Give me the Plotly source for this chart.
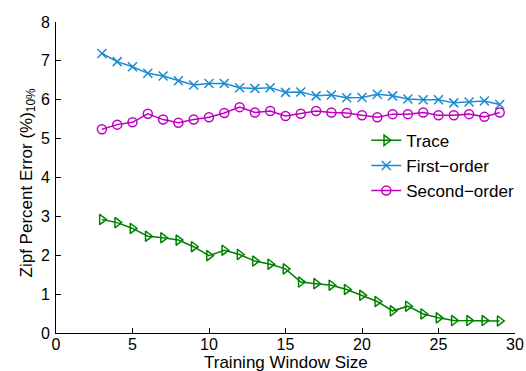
import plotly.graph_objects as go

window_size = list(range(3, 30))

trace_err = [2.92, 2.84, 2.69, 2.49, 2.45, 2.39, 2.22, 1.99, 2.13, 2.02, 1.85, 1.77, 1.65, 1.31,
             1.27, 1.23, 1.12, 0.97, 0.81, 0.57, 0.69, 0.49, 0.39, 0.32, 0.32, 0.32, 0.31]
first_order_err = [7.19, 6.98, 6.85, 6.68, 6.61, 6.49, 6.38, 6.42, 6.42, 6.31, 6.29, 6.31, 6.19, 6.2,
                   6.1, 6.12, 6.05, 6.06, 6.14, 6.1, 6.02, 6.0, 6.0, 5.92, 5.94, 5.97, 5.88]
second_order_err = [5.24, 5.36, 5.42, 5.64, 5.49, 5.41, 5.49, 5.55, 5.66, 5.81, 5.67, 5.71, 5.58, 5.64,
                    5.71, 5.67, 5.66, 5.6, 5.55, 5.63, 5.63, 5.67, 5.6, 5.6, 5.63, 5.56, 5.67]

x_ticks = [0, 5, 10, 15, 20, 25, 30]
y_ticks = [0, 1, 2, 3, 4, 5, 6, 7, 8]

series = [
    ("Trace", trace_err, "#008000", "triangle-right-open"),
    ("First\u2212order", first_order_err, "#1a8bd2", "x-thin-open"),
    ("Second\u2212order", second_order_err, "#c000c0", "circle-open"),
]

fig = go.Figure()
for name, vals, color, sym in series:
    fig.add_trace(go.Scatter(
        x=window_size, y=vals, name=name, mode="lines+markers",
        line=dict(color=color, width=1.5),
        marker=dict(symbol=sym, size=9, color=color, line=dict(color=color, width=1.5)),
    ))

font = "Liberation Sans, Arial, Helvetica, sans-serif"
fig.update_layout(
    width=526, height=371,
    margin=dict(l=56, r=11, t=22, b=38, autoexpand=False),
    paper_bgcolor="white", plot_bgcolor="white",
    font=dict(family=font, size=17, color="black"),
    showlegend=True,
    legend=dict(x=0.676, y=0.676, xanchor="left", yanchor="top",
                bgcolor="rgba(0,0,0,0)", borderwidth=0,
                font=dict(size=17), tracegroupgap=0, itemwidth=30),
    xaxis=dict(range=[0, 30], tickvals=x_ticks, showgrid=False, zeroline=False,
               showline=True, linecolor="black", linewidth=1,
               ticks="inside", ticklen=5, tickcolor="black",
               tickfont=dict(size=16), ticklabelstandoff=-3, automargin=False),
    yaxis=dict(range=[0, 8], tickvals=y_ticks, showgrid=False, zeroline=False,
               showline=True, linecolor="black", linewidth=1,
               ticks="inside", ticklen=5, tickcolor="black",
               tickfont=dict(size=16), ticklabelstandoff=2, automargin=False),
    annotations=[
        dict(text="Training Window Size", xref="paper", yref="paper",
             x=0.5, y=-0.095, xanchor="center", yanchor="middle",
             showarrow=False, font=dict(size=17)),
        dict(text="Zipf Percent Error (%)<sub>10%</sub>", xref="paper", yref="paper",
             x=-0.061, y=0.484, xanchor="center", yanchor="middle", textangle=-90,
             showarrow=False, font=dict(size=17)),
    ],
)

fig.write_html("out.html")
